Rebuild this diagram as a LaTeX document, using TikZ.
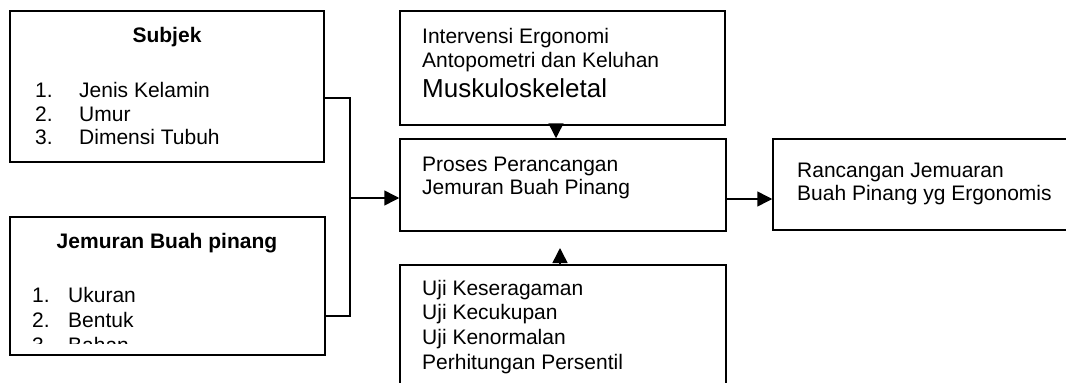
\documentclass[tikz,border=0pt]{standalone}
\usepackage{fontspec}
\setmainfont{Liberation Sans}
\usetikzlibrary{arrows.meta}
\begin{document}
\begin{tikzpicture}[x=1pt,y=-1pt,
  box/.style={draw,line width=1.5pt,inner sep=0pt,rectangle},
  txt/.style={anchor=base west,inner sep=0pt,font=\fontsize{21}{24}\selectfont},
  ttl/.style={anchor=base,inner sep=0pt,font=\fontsize{21}{24}\selectfont\bfseries},
  big/.style={anchor=base west,inner sep=0pt,font=\fontsize{26}{30}\selectfont},
  conn/.style={line width=1.5pt},
  arr/.style={line width=1.5pt,-{Triangle[length=15pt,width=15pt]}}]
\useasboundingbox (0,0) rectangle (1066,383);
\clip (0,0) rectangle (1066,383);
\fill[white] (0,0) rectangle (1066,383);
% boxes
\node[box,minimum width=314,minimum height=151] (subj) at (167,86.5) {};
\node[box,minimum width=315,minimum height=138] (jem) at (167.5,286) {};
\node[box,minimum width=325,minimum height=114] (intv) at (562.5,68) {};
\node[box,minimum width=326,minimum height=92] (pros) at (563,185) {};
\node[box,minimum width=326,minimum height=135] (uji) at (563,332.5) {};
\node[box,minimum width=307,minimum height=91] (ranc) at (926.5,184.5) {};
% texts
\node[ttl] (subjT) at (167,42) {Subjek};
\node[txt] (s1n) at (35,97) {1.};
\node[txt] (s1) at (79,97) {Jenis Kelamin};
\node[txt] (s2n) at (35,121) {2.};
\node[txt] (s2) at (79,121) {Umur};
\node[txt] (s3n) at (35,144) {3.};
\node[txt] (s3) at (79,144) {Dimensi Tubuh};
\node[ttl] (jemT) at (167,248) {Jemuran Buah pinang};
\node[txt] (j1n) at (32,302) {1.};
\node[txt] (j1) at (68,302) {Ukuran};
\node[txt] (j2n) at (32,327) {2.};
\node[txt] (j2) at (68,327) {Bentuk};
\begin{scope}
\clip (10,217) rectangle (325,343);
\node[txt] (j3n) at (32,352) {3.};
\node[txt] (j3) at (68,352) {Bahan};
\end{scope}
\node[txt] (i1) at (422,43) {Intervensi Ergonomi};
\node[txt] (i2) at (422,67) {Antopometri dan Keluhan};
\node[big] (i3) at (422,97) {Muskuloskeletal};
\node[txt] (p1) at (422,171) {Proses Perancangan};
\node[txt] (p2) at (422,194) {Jemuran Buah Pinang};
\node[txt] (u1) at (422,295) {Uji Keseragaman};
\node[txt] (u2) at (422,319) {Uji Kecukupan};
\node[txt] (u3) at (422,344) {Uji Kenormalan};
\node[txt] (u4) at (422,369) {Perhitungan Persentil};
\node[txt] (r1) at (797,177) {Rancangan Jemuaran};
\node[txt] (r2) at (797,200) {Buah Pinang yg Ergonomis};
% connectors
\coordinate (jn) at (350,198);
\coordinate (upTip) at (560,248);
\draw[conn] (subj.east |- 0,98) -- (350,98) -- (350,316) -- (jem.east |- 0,316);
\draw[arr] (jn) -- (pros.west |- jn);
\draw[arr] (pros.east |- 0,199) -- (ranc.west |- 0,199);
\draw[arr,shorten <=-3pt] (intv.south -| 556,0) -- (pros.north -| 556,0);
\draw[arr] (uji.north -| 560,0) -- (upTip);
\end{tikzpicture}
\end{document}
